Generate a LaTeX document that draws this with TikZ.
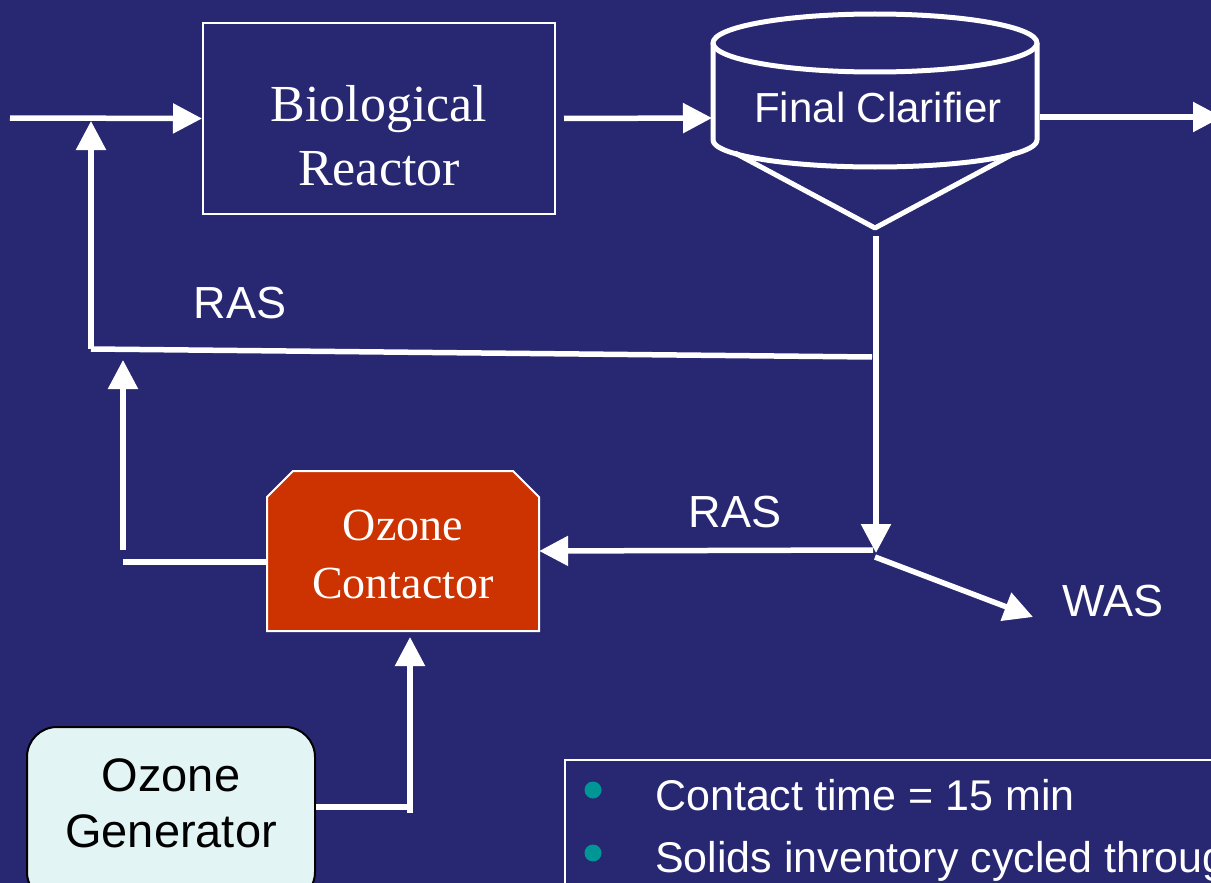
\documentclass[tikz,border=0pt]{standalone}
\usepackage{fontspec}
\setmainfont{Liberation Serif}
\setsansfont{Liberation Sans}
\usetikzlibrary{arrows.meta}
\definecolor{bg}{RGB}{40,39,113}
\definecolor{ozred}{RGB}{204,51,0}
\definecolor{genfill}{RGB}{226,244,244}
\definecolor{bulletc}{RGB}{0,150,150}
\begin{document}
\begin{tikzpicture}[x=1pt,y=-1pt,
  flow/.style={white, line width=5.5pt, -{Triangle[length=29pt,width=29pt]}},
  pipe/.style={white, line width=5.5pt},
  vessel/.style={white, line width=5pt, line join=round},
  serlabel/.style={text=white, align=center, inner sep=0pt},
  sanslabel/.style={text=white, font=\sffamily\fontsize{45}{54}\selectfont, inner sep=0pt},
  notetext/.style={text=white, font=\sffamily\fontsize{43}{52}\selectfont, inner sep=0pt, anchor=base west}]
\useasboundingbox (0,0) rectangle (1211,883);
\clip (0,0) rectangle (1211,883);
\fill[bg] (0,0) rectangle (1211,883);

% Biological reactor
\node[draw=white, line width=2pt, minimum width=352pt, minimum height=191pt, inner sep=0pt] (bio) at (379,118.5) {};
\node[serlabel, font=\fontsize{52}{64}\selectfont] (biotxt) at (379,136) {Biological\\Reactor};

% Final clarifier
\draw[vessel] (875,43) ellipse [x radius=162, y radius=29];
\draw[vessel] (713,43) -- (713,140)
  .. controls (713,155) and (785.5,167) .. (875,167)
  .. controls (964.5,167) and (1037,155) .. (1037,140) -- (1037,43);
\draw[vessel] (735,153) -- (875,228) -- (1015,153);
\node[text=white, font=\sffamily\fontsize{42}{50}\selectfont, inner sep=0pt, anchor=base] (clar) at (878,122) {Final Clarifier};
\coordinate (clarW) at (712,118);
\coordinate (clarE) at (1040,117);
\coordinate (clarOut) at (1222,117);
\coordinate (apex) at (876,236);

% Ozone contactor
\fill[ozred, draw=white, line width=2pt] (267,497) -- (293,471) -- (513,471) -- (539,497) -- (539,631) -- (267,631) -- cycle;
\node[minimum width=272pt, minimum height=160pt, inner sep=0pt] (oz) at (403,551) {};
\node[serlabel, font=\fontsize{46}{58}\selectfont] (oztxt) at (403,554) {Ozone\\Contactor};

% Ozone generator
\node[draw=black, line width=2pt, fill=genfill, rounded corners=30pt, minimum width=288pt, minimum height=175pt, inner sep=0pt] (gen) at (171,814.5) {};
\node[inner sep=0pt, align=center, text=black, font=\sffamily\fontsize{47}{56}\selectfont] (gentxt) at (171,803) {Ozone\\Generator};

% Notes box
\node[draw=white, line width=1.5pt, minimum width=680pt, minimum height=160pt, inner sep=0pt, anchor=north west] (notes) at (564,759) {};
\fill[bulletc] (593,790) circle (8.5);
\fill[bulletc] (593,853) circle (8.5);
\node[notetext] (n1) at (655,810) {Contact time = 15 min};
\node[notetext] (n2) at (655,872) {Solids inventory cycled through};

% coordinates for connectors
\coordinate (inS) at (10,118);
\coordinate (rasTop) at (91,121);
\coordinate (rasCorner) at (91,349);
\coordinate (rasJoin) at (872,357);
\coordinate (split) at (876,553);
\coordinate (rasStart) at (873,550);
\coordinate (wasS) at (875,557);
\coordinate (wasE) at (1033,617);
\coordinate (ozL) at (123,562);
\coordinate (ozUpS) at (123,550);
\coordinate (ozUpE) at (123,360);
\coordinate (genR) at (410,807);
\coordinate (genUpS) at (410,813);
\coordinate (genUpE) at (410,637);

% connectors
\draw[flow] (inS) -- (bio.west);
\draw[flow] (rasCorner) -- (rasTop);
\draw[pipe] (rasCorner) -- (rasJoin);
\draw[flow] ([xshift=8pt]bio.east) -- (clarW);
\draw[flow] (clarE) -- (clarOut);
\draw[flow] (apex) -- (split);
\draw[flow] (rasStart) -- (oz.east);
\draw[flow] (wasS) -- (wasE);
\draw[pipe] (oz.west |- ozL) -- (ozL);
\draw[flow] (ozUpS) -- (ozUpE);
\draw[pipe] (gen.east |- genR) -- (genR);
\draw[flow] (genUpS) -- (genUpE);

% labels
\node[sanslabel, anchor=base] (ras1) at (240,318) {RAS};
\node[sanslabel, anchor=base] (ras2) at (735,527) {RAS};
\node[sanslabel, anchor=base] (was) at (1113,616) {WAS};
\end{tikzpicture}
\end{document}
